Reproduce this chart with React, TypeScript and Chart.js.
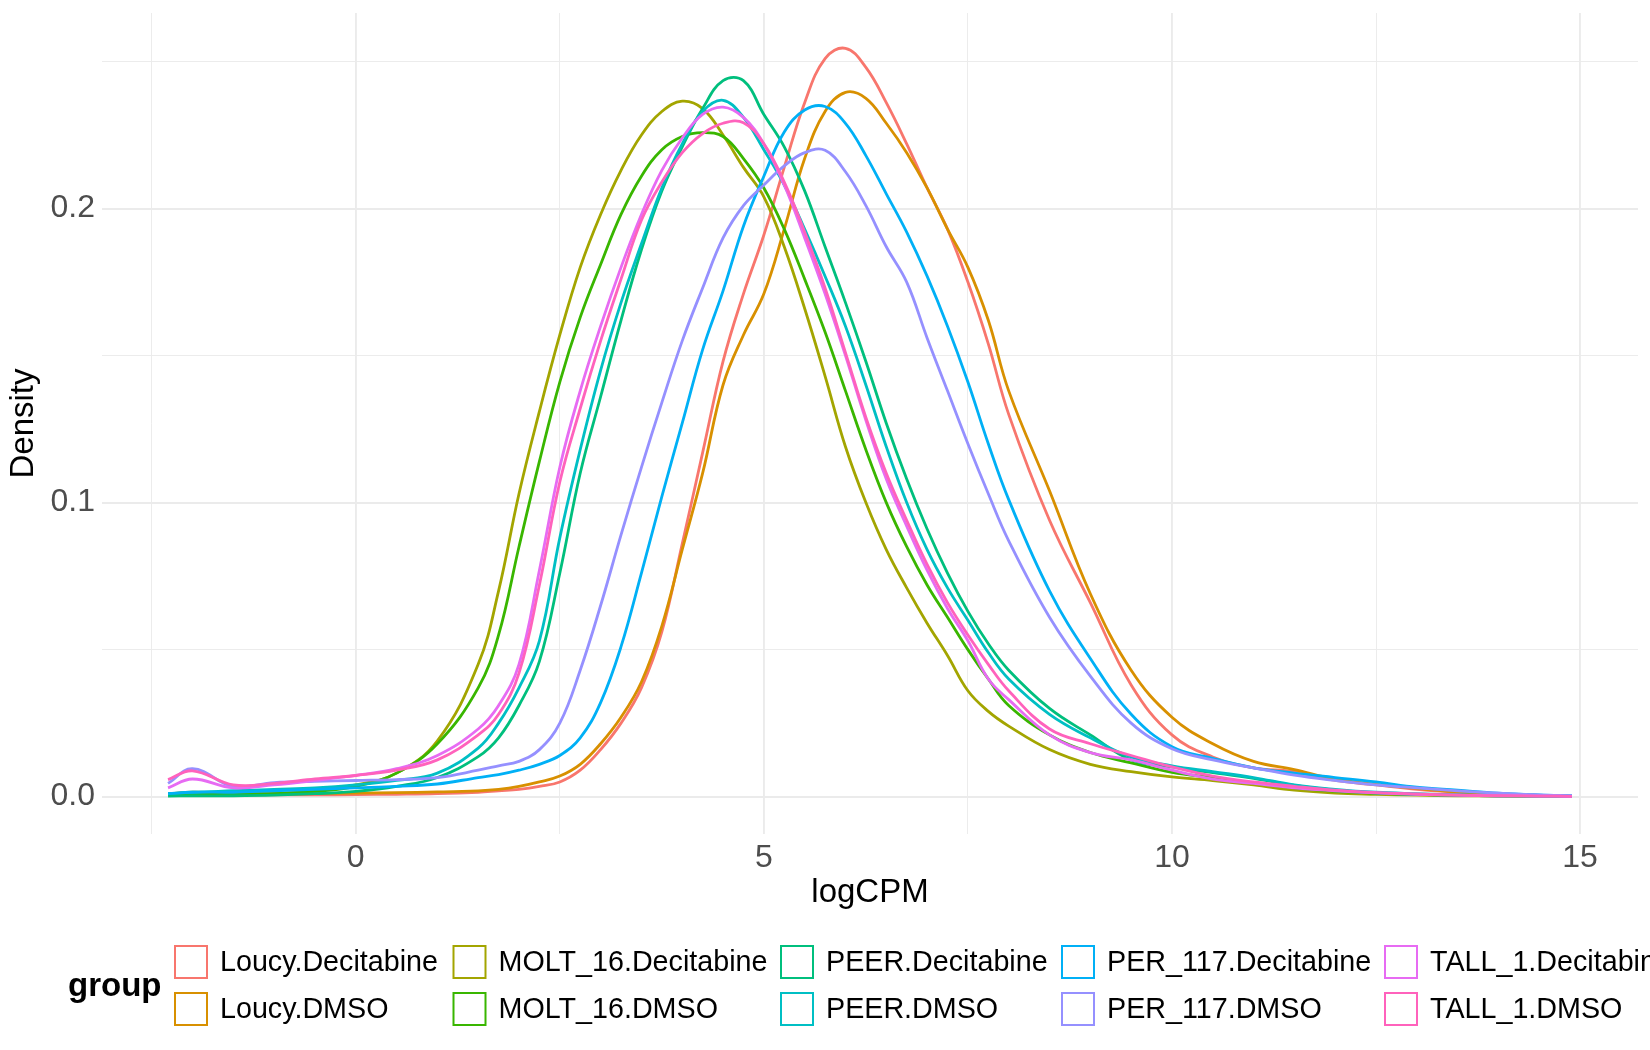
import React, { useEffect, useRef } from 'react';
import { Chart, registerables } from 'chart.js';

Chart.register(...registerables);

// logCPM grid on which the density curves were read
const LOGCPM = [
  -2.3, -2, -1.5, -1, -0.5, 0, 0.5, 1, 1.5, 1.75, 2, 2.25, 2.5, 2.75, 3, 3.25, 3.5, 3.75, 4, 4.25,
  4.5, 4.75, 5, 5.25, 5.5, 5.75, 6, 6.25, 6.5, 6.75, 7, 7.25, 7.5, 7.75, 8, 8.5, 9, 9.5, 10, 10.5,
  11, 11.5, 12, 12.5, 13, 13.5, 14, 14.5, 14.9,
];

const LOUCY_DECITABINE = [
  0.0006, 0.0008, 0.0006, 0.0006, 0.0006, 0.0007, 0.0008, 0.001, 0.0015, 0.002, 0.0025, 0.0035, 0.005, 0.009, 0.016, 0.025, 0.037, 0.056, 0.086, 0.117,
  0.148, 0.171, 0.191, 0.214, 0.236, 0.251, 0.2545, 0.248, 0.236, 0.222, 0.207, 0.193, 0.175, 0.154, 0.13, 0.094, 0.066, 0.038, 0.021, 0.0135,
  0.0098, 0.0085, 0.0055, 0.004, 0.0025, 0.0015, 0.0008, 0.0004, 0.0002,
];
const LOUCY_DMSO = [
  0.001, 0.0012, 0.001, 0.001, 0.001, 0.0012, 0.0014, 0.0016, 0.002, 0.0025, 0.0035, 0.005, 0.007, 0.011, 0.018, 0.027, 0.039, 0.058, 0.084, 0.11,
  0.14, 0.157, 0.171, 0.193, 0.217, 0.233, 0.2395, 0.2375, 0.229, 0.219, 0.207, 0.193, 0.18, 0.162, 0.138, 0.104, 0.069, 0.043, 0.027, 0.018,
  0.012, 0.0092, 0.006, 0.0042, 0.0028, 0.0016, 0.0009, 0.0004, 0.0002,
];
const MOLT16_DECITABINE = [
  0.001, 0.0015, 0.0012, 0.0012, 0.002, 0.004, 0.008, 0.019, 0.045, 0.07, 0.103, 0.131, 0.157, 0.18, 0.198, 0.213, 0.225, 0.233, 0.2365, 0.234,
  0.225, 0.214, 0.204, 0.187, 0.166, 0.143, 0.119, 0.1, 0.084, 0.071, 0.059, 0.048, 0.036, 0.029, 0.024, 0.016, 0.011, 0.0085, 0.0067, 0.0055,
  0.004, 0.0022, 0.0012, 0.0008, 0.0005, 0.0003, 0.0002, 0.0001, 0.0001,
];
const MOLT16_DMSO = [
  0.0005, 0.0008, 0.0008, 0.001, 0.0018, 0.0035, 0.008, 0.018, 0.037, 0.055, 0.085, 0.114, 0.141, 0.163, 0.181, 0.198, 0.211, 0.22, 0.2245, 0.2258,
  0.2245, 0.217, 0.207, 0.193, 0.176, 0.158, 0.138, 0.118, 0.1, 0.085, 0.072, 0.061, 0.05, 0.04, 0.031, 0.021, 0.015, 0.0115, 0.0083, 0.0065,
  0.0047, 0.003, 0.0018, 0.0012, 0.0008, 0.0005, 0.0003, 0.0002, 0.0001,
];
const PEER_DECITABINE = [
  0.0002, 0.0003, 0.0003, 0.0005, 0.001, 0.0018, 0.0035, 0.0065, 0.0136, 0.02, 0.031, 0.046, 0.076, 0.11, 0.136, 0.162, 0.186, 0.206, 0.221, 0.234,
  0.2435, 0.2435, 0.232, 0.221, 0.206, 0.187, 0.168, 0.148, 0.127, 0.108, 0.091, 0.076, 0.063, 0.052, 0.043, 0.03, 0.021, 0.0125, 0.0101, 0.0082,
  0.0062, 0.0038, 0.0022, 0.0012, 0.0008, 0.0005, 0.0003, 0.0002, 0.0001,
];
const PEER_DMSO = [
  0.001, 0.0015, 0.002, 0.0025, 0.003, 0.004, 0.0055, 0.008, 0.0165, 0.025, 0.037, 0.053, 0.088, 0.118, 0.145, 0.168, 0.188, 0.207, 0.222, 0.233,
  0.2368, 0.231, 0.22, 0.208, 0.193, 0.177, 0.16, 0.14, 0.119, 0.1, 0.084, 0.071, 0.06, 0.049, 0.04, 0.028, 0.02, 0.0135, 0.0105, 0.0085,
  0.0065, 0.004, 0.0025, 0.0015, 0.001, 0.0006, 0.0003, 0.0002, 0.0001,
];
const PER117_DECITABINE = [
  0.001, 0.0015, 0.0015, 0.002, 0.0025, 0.003, 0.0035, 0.0043, 0.0065, 0.0075, 0.009, 0.011, 0.014, 0.02, 0.032, 0.051, 0.076, 0.102, 0.127, 0.152,
  0.172, 0.194, 0.211, 0.226, 0.2335, 0.2347, 0.229, 0.218, 0.205, 0.192, 0.177, 0.16, 0.141, 0.12, 0.101, 0.07, 0.047, 0.028, 0.017, 0.013,
  0.0098, 0.008, 0.0065, 0.005, 0.0032, 0.0022, 0.0012, 0.0006, 0.0003,
];
const PER117_DMSO = [
  0.0045, 0.0095, 0.0035, 0.0048, 0.0052, 0.0055, 0.0058, 0.0065, 0.009, 0.0105, 0.012, 0.016, 0.025, 0.043, 0.065, 0.089, 0.112, 0.134, 0.155, 0.173,
  0.19, 0.201, 0.208, 0.2145, 0.219, 0.2198, 0.2125, 0.201, 0.187, 0.175, 0.156, 0.138, 0.12, 0.103, 0.087, 0.061, 0.041, 0.025, 0.0163, 0.0125,
  0.0098, 0.0073, 0.0055, 0.004, 0.003, 0.002, 0.0012, 0.0006, 0.0003,
];
const TALL1_DECITABINE = [
  0.003, 0.006, 0.003, 0.004, 0.0055, 0.0072, 0.0095, 0.014, 0.023, 0.031, 0.045, 0.077, 0.112, 0.138, 0.16, 0.18, 0.198, 0.213, 0.224, 0.232,
  0.2345, 0.231, 0.222, 0.208, 0.19, 0.171, 0.15, 0.128, 0.108, 0.092, 0.077, 0.064, 0.053, 0.04, 0.033, 0.021, 0.015, 0.0125, 0.009, 0.006,
  0.0045, 0.003, 0.002, 0.0013, 0.0008, 0.0005, 0.0003, 0.0002, 0.0001,
];
const TALL1_DMSO = [
  0.0058, 0.0088, 0.004, 0.0045, 0.006, 0.0072, 0.009, 0.0125, 0.021, 0.028, 0.042, 0.072, 0.107, 0.132, 0.155, 0.176, 0.196, 0.209, 0.219, 0.2255,
  0.229, 0.2292, 0.222, 0.209, 0.192, 0.173, 0.151, 0.129, 0.11, 0.094, 0.079, 0.066, 0.055, 0.045, 0.036, 0.023, 0.018, 0.014, 0.0101, 0.007,
  0.005, 0.0035, 0.0022, 0.0014, 0.0009, 0.0005, 0.0003, 0.0002, 0.0001,
];

const GROUPS = [
  'Loucy.Decitabine', 'Loucy.DMSO', 'MOLT_16.Decitabine', 'MOLT_16.DMSO', 'PEER.Decitabine',
  'PEER.DMSO', 'PER_117.Decitabine', 'PER_117.DMSO', 'TALL_1.Decitabine', 'TALL_1.DMSO',
];
const SERIES = [
  LOUCY_DECITABINE, LOUCY_DMSO, MOLT16_DECITABINE, MOLT16_DMSO, PEER_DECITABINE,
  PEER_DMSO, PER117_DECITABINE, PER117_DMSO, TALL1_DECITABINE, TALL1_DMSO,
];
const COLORS = [
  '#F8766D', '#D89000', '#A3A500', '#39B600', '#00BF7D',
  '#00BFC4', '#00B0F6', '#9590FF', '#E76BF3', '#FF62BC',
];

const X_TICKS = [-2.5, 0, 2.5, 5, 7.5, 10, 12.5, 15];
const X_LABELED = [0, 5, 10, 15];
const Y_TICKS = [0, 0.05, 0.1, 0.15, 0.2, 0.25];
const Y_LABELED = [0, 0.1, 0.2];

const FONT = '"Liberation Sans", Arial, Helvetica, sans-serif';

const isIn = (list: number[], v: number) => list.some((t) => Math.abs(t - v) < 1e-9);

const legendPlugin = {
  id: 'ggLegend',
  afterDraw(chart: any) {
    const ctx = chart.ctx as CanvasRenderingContext2D;
    ctx.save();
    ctx.textAlign = 'left';
    ctx.textBaseline = 'middle';
    ctx.fillStyle = '#000000';
    ctx.font = `bold 33px ${FONT}`;
    ctx.fillText('group', 68, 987);
    const cols = [174, 452.5, 780, 1061, 1384];
    const rows = [962, 1009];
    ctx.font = `28.7px ${FONT}`;
    GROUPS.forEach((g, i) => {
      const x = cols[Math.floor(i / 2)];
      const y = rows[i % 2];
      ctx.strokeStyle = COLORS[i];
      ctx.lineWidth = 2;
      ctx.strokeRect(x + 1, y - 16, 32, 32);
      ctx.fillStyle = '#000000';
      ctx.fillText(g, x + 46, y + 1);
    });
    ctx.restore();
  },
};

export default function App() {
  const ref = useRef<HTMLCanvasElement | null>(null);

  useEffect(() => {
    document.body.style.margin = '0';
    const canvas = ref.current;
    if (!canvas) return;
    const chart = new Chart(canvas, {
      type: 'line',
      data: {
        datasets: GROUPS.map((g, i) => ({
          label: g,
          data: LOGCPM.map((x, j) => ({ x, y: SERIES[i][j] })),
          borderColor: COLORS[i],
          backgroundColor: COLORS[i],
          borderWidth: 2.8,
          pointRadius: 0,
          tension: 0.4,
          fill: false,
          order: GROUPS.length - i,
        })),
      },
      options: {
        animation: false,
        responsive: false,
        devicePixelRatio: 1,
        layout: { padding: { left: 0, right: 12, top: 13, bottom: 136 } },
        plugins: {
          legend: { display: false },
          tooltip: { enabled: false },
        },
        scales: {
          x: {
            type: 'linear',
            min: -3.109,
            max: 15.71,
            bounds: 'data',
            afterBuildTicks: (s: any) => {
              s.ticks = X_TICKS.map((v) => ({ value: v }));
            },
            afterFit: (s: any) => {
              s.height = 80;
            },
            border: { display: false },
            grid: {
              color: '#EBEBEB',
              lineWidth: (c: any) => (isIn(X_LABELED, c.tick.value) ? 1.9 : 0.95),
              drawTicks: false,
            },
            ticks: {
              autoSkip: false,
              maxRotation: 0,
              padding: 5,
              color: '#4D4D4D',
              font: { size: 32, family: FONT },
              callback: (v: any) => (isIn(X_LABELED, Number(v)) ? String(v) : ''),
            },
            title: {
              display: true,
              text: 'logCPM',
              color: '#000000',
              font: { size: 33, family: FONT },
              padding: { top: 4, bottom: 1 },
            },
          },
          y: {
            type: 'linear',
            min: -0.0127,
            max: 0.2665,
            bounds: 'data',
            afterBuildTicks: (s: any) => {
              s.ticks = Y_TICKS.map((v) => ({ value: v }));
            },
            afterFit: (s: any) => {
              s.width = 102;
              s.paddingTop = 0;
              s.paddingBottom = 0;
            },
            border: { display: false },
            grid: {
              color: '#EBEBEB',
              lineWidth: (c: any) => (isIn(Y_LABELED, c.tick.value) ? 1.9 : 0.95),
              drawTicks: false,
            },
            ticks: {
              autoSkip: false,
              padding: 7,
              color: '#4D4D4D',
              font: { size: 32, family: FONT },
              callback: (v: any) => (isIn(Y_LABELED, Number(v)) ? Number(v).toFixed(1) : ''),
            },
            title: {
              display: true,
              text: 'Density',
              color: '#000000',
              font: { size: 33, family: FONT },
              padding: { top: 4, bottom: 4 },
            },
          },
        },
      },
      plugins: [legendPlugin],
    });
    return () => chart.destroy();
  }, []);

  return <canvas ref={ref} width={1650} height={1050} style={{ display: 'block', width: 1650, height: 1050 }} />;
}
